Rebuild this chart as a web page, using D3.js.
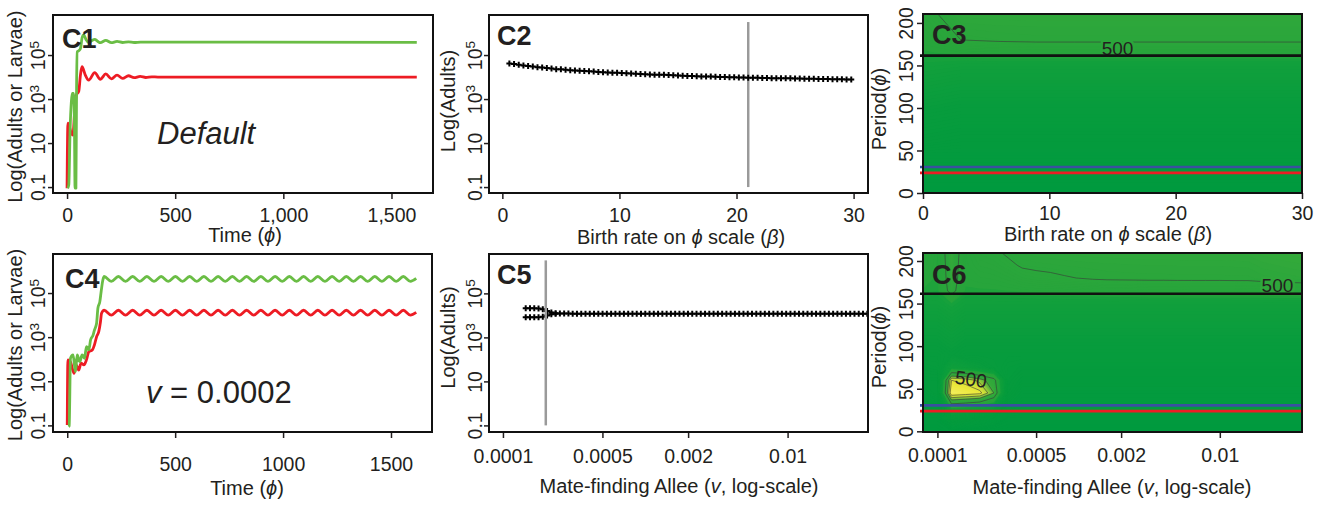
<!DOCTYPE html>
<html>
<head>
<meta charset="utf-8">
<script src="https://cdn.jsdelivr.net/npm/d3@7/dist/d3.min.js"></script>
<style>
  body { margin: 0; background: #fff; }
  svg text { font-family: "Liberation Sans", Arial, Helvetica, sans-serif; fill: #231f20; }
</style>
</head>
<body>
<svg id="fig" width="1323" height="507"></svg>
<script>
// ---------- values (abundances kept as log10) ----------

// C1 default run: [time, log10 N]
const c1Larvae = [[3,-1.05],[8,-0.9],[14,1.6],[20,2.9],[24,3.26],[30,3.26],[34,2.0],[37,-1.05],[41,-1.05],[44,3.5],[47,5.15],[55,5.2],[62,5.3],[70,5.8],[77,5.91],[88,5.7],[100,5.56],[115,5.66],[128,5.71],[141,5.63],[154,5.56],[179,5.67],[205,5.56],[231,5.62],[257,5.57],[284,5.6],[310,5.57],[340,5.59],[1617,5.58]];
const c1Adults = [[0,-1.05],[4,1.9],[12,1.7],[20,1.45],[27,1.36],[35,2.4],[43,3.18],[54,3.35],[62,4.1],[69,4.47],[84,4.1],[100,3.86],[128,4.2],[154,3.9],[179,4.14],[205,3.92],[231,4.09],[257,3.94],[284,4.06],[310,3.97],[338,4.03],[364,3.98],[392,4.01],[420,4.0],[1617,4.0]];

// C4 v = 0.0002: transient, then the steady cycle
const c4LarvaeRise = [[6,-1.06],[9,-1.02],[15,2.04],[27,2.19],[38,1.44],[46,2.19],[58,1.89],[69,2.19],[80,2.04],[89,2.57],[100,2.42],[108,2.87],[120,3.1],[126,3.32],[136,3.63],[142,4.31],[151,4.61],[157,5.06],[165,5.59]];
const c4AdultsRise = [[0,-0.98],[3,1.97],[14,1.89],[32,1.36],[42,1.74],[53,1.51],[64,1.82],[77,1.74],[89,1.97],[100,2.34],[116,2.42],[126,2.65],[136,3.02],[146,3.25],[154,3.7],[159,4.08]];
const c4CycleTime = [171,204,237,270,303,336,369,402,435,468,501,534,567,600,633,666,699,732,765,798,831,864,897,930,963,996,1029,1062,1095,1128,1161,1194,1227,1260,1293,1326,1359,1392,1425,1458,1491,1524,1557,1590,1617];
const c4LarvaeCycle = [5.75,5.53,5.75,5.53,5.75,5.53,5.75,5.53,5.75,5.53,5.75,5.53,5.75,5.53,5.75,5.53,5.75,5.53,5.75,5.53,5.75,5.53,5.75,5.53,5.75,5.53,5.75,5.53,5.75,5.53,5.75,5.53,5.75,5.53,5.75,5.53,5.75,5.53,5.75,5.53,5.75,5.53,5.75,5.53,5.66];
const c4AdultsCycle = [4.22,4.0,4.22,4.0,4.22,4.0,4.22,4.0,4.22,4.0,4.22,4.0,4.22,4.0,4.22,4.0,4.22,4.0,4.22,4.0,4.22,4.0,4.22,4.0,4.22,4.0,4.22,4.0,4.22,4.0,4.22,4.0,4.22,4.0,4.22,4.0,4.22,4.0,4.22,4.0,4.22,4.0,4.22,4.0,4.12];

// C2 equilibrium adults against birth rate
const c2Beta = [0.6,1.0,1.4,1.8,2.2,2.6,3.0,3.4,3.8,4.2,4.6,5.0,5.4,5.8,6.2,6.6,7.0,7.4,7.8,8.2,8.6,9.0,9.4,9.8,10.2,10.6,11.0,11.4,11.8,12.2,12.6,13.0,13.4,13.8,14.2,14.6,15.0,15.4,15.8,16.2,16.6,17.0,17.4,17.8,18.2,18.6,19.0,19.4,19.8,20.2,20.6,21.0,21.4,21.8,22.2,22.6,23.0,23.4,23.8,24.2,24.6,25.0,25.4,25.8,26.2,26.6,27.0,27.4,27.8,28.2,28.6,29.0,29.4,29.8];
const c2LogAdults = [4.62,4.59,4.56,4.53,4.50,4.48,4.45,4.43,4.41,4.39,4.36,4.35,4.33,4.31,4.30,4.29,4.27,4.26,4.25,4.23,4.22,4.21,4.20,4.19,4.18,4.17,4.16,4.15,4.14,4.13,4.12,4.11,4.11,4.10,4.09,4.08,4.07,4.06,4.05,4.05,4.04,4.03,4.03,4.02,4.01,4.00,4.00,3.99,3.99,3.98,3.98,3.97,3.97,3.97,3.96,3.96,3.95,3.95,3.94,3.94,3.94,3.93,3.93,3.92,3.92,3.92,3.91,3.91,3.91,3.90,3.90,3.90,3.89,3.89];
const c2Mark = 21;

// C5 equilibrium adults against the mate-finding Allee parameter (log10 v)
const c5BranchLogV = [-3.84,-3.81,-3.78,-3.75,-3.72,-3.69,-3.66,-3.63];
const c5BranchHigh = [4.33,4.33,4.32,4.31,4.28,4.20,4.13,4.10];
const c5BranchLow = [3.91,3.91,3.91,3.92,3.94,4.00,4.05,4.07];
const c5LogV = [-3.60,-3.57,-3.54,-3.51,-3.48,-3.45,-3.42,-3.39,-3.36,-3.33,-3.30,-3.27,-3.24,-3.21,-3.18,-3.15,-3.12,-3.09,-3.06,-3.03,-3.00,-2.97,-2.94,-2.91,-2.88,-2.85,-2.82,-2.79,-2.76,-2.73,-2.70,-2.67,-2.64,-2.61,-2.58,-2.55,-2.52,-2.49,-2.46,-2.43,-2.40,-2.37,-2.34,-2.31,-2.28,-2.25,-2.22,-2.19,-2.16,-2.13,-2.10,-2.07,-2.04,-2.01,-1.98,-1.95,-1.92,-1.89,-1.86,-1.83,-1.80,-1.77,-1.74,-1.71,-1.68,-1.65,-1.62,-1.59,-1.56,-1.53,-1.50,-1.47,-1.44];
const c5LogAdults = [4.09,4.09,4.09,4.08,4.08,4.08,4.08,4.08,4.08,4.08,
  4.08,4.08,4.08,4.08,4.08,4.08,4.08,4.08,4.08,4.08,
  4.08,4.08,4.08,4.08,4.08,4.08,4.08,4.08,4.08,4.08,
  4.08,4.08,4.08,4.08,4.08,4.08,4.08,4.08,4.08,4.08,
  4.08,4.08,4.08,4.08,4.08,4.08,4.08,4.08,4.08,4.08,
  4.08,4.08,4.08,4.08,4.08,4.08,4.08,4.08,4.08,4.08,
  4.08,4.08,4.08,4.08,4.08,4.08,4.08,4.08,4.08,4.08,
  4.08,4.08,4.08];
const c5Mark = 0.0002;

// C3 field: rows = period, columns = birth rate
const c3Beta = [0,3,6,9,12,15,18,21,24,27,30];
const c3Period = [0,15,30,45,60,75,90,105,120,135,150,165,180,195,210];
const c3Field = [
  [0,0,0,0,0,0,0,0,0,0,0],
  [37,37,37,37,37,37,37,37,37,37,37],
  [75,75,75,75,75,75,75,75,75,75,75],
  [112,112,112,112,112,112,112,112,112,112,112],
  [169,149,149,149,149,149,149,149,149,149,149],
  [206,186,186,186,186,186,186,186,186,186,186],
  [244,224,224,224,224,224,224,224,224,224,224],
  [281,261,261,261,261,261,261,261,261,261,261],
  [318,298,298,298,298,298,298,298,298,298,298],
  [355,335,335,335,335,335,335,335,335,335,335],
  [385,373,373,373,373,373,373,373,373,373,373],
  [406,418,425,425,425,425,425,425,425,425,425],
  [428,500,510,515,515,515,515,515,515,515,515],
  [449,522,527,529,529,529,529,529,529,529,529],
  [470,545,549,551,551,551,551,551,551,551,551]
];

// C6 field: rows = period, columns = log10 v
const c6LogV = [-4.1,-4.0,-3.9,-3.8,-3.7,-3.6,-3.5,-3.4,-3.3,-3.2,-3.1,-3.0,-2.9,-2.8,-2.7,-2.6,-2.5,-2.4,-2.3,-2.2,-2.1,-2.0,-1.9,-1.8,-1.7,-1.6,-1.5,-1.4];
const c6Period = [0,15,30,45,60,75,90,105,120,135,150,165,180,195,210];
const c6Field = [
  [0,0,30,0,0,0,0,0,0,0,0,0,0,0,0,0,0,0,0,0,0,0,0,0,0,0,0,0],
  [37,37,200,180,150,100,37,37,37,37,37,37,37,37,37,37,37,37,37,37,37,37,37,37,37,37,37,37],
  [75,80,450,430,400,330,120,75,75,75,75,75,75,75,75,75,75,75,75,75,75,75,75,75,75,75,75,75],
  [112,150,780,760,740,600,170,112,112,112,112,112,112,112,112,112,112,112,112,112,112,112,112,112,112,112,112,112],
  [149,150,720,700,640,540,190,149,149,149,149,149,149,149,149,149,149,149,149,149,149,149,149,149,149,149,149,149],
  [186,200,350,320,280,240,200,186,186,186,186,186,186,186,186,186,186,186,186,186,186,186,186,186,186,186,186,186],
  [224,224,254,224,224,224,224,224,224,224,224,224,224,224,224,224,224,224,224,224,224,224,224,224,224,224,224,224],
  [261,261,291,261,261,261,261,261,261,261,261,261,261,261,261,261,261,261,261,261,261,261,261,261,261,261,261,261],
  [298,298,328,298,298,298,298,298,298,298,298,298,298,298,298,298,298,298,298,298,298,298,298,298,298,298,298,298],
  [335,335,365,335,335,335,335,335,335,335,335,335,335,335,335,335,335,335,335,335,335,335,335,335,335,335,335,335],
  [373,373,400,373,373,373,373,373,373,373,373,373,373,373,373,373,373,373,373,373,373,373,373,373,373,373,373,373],
  [406,400,540,405,406,407,410,414,417,418,420,422,424,425,426,427,429,429,430,431,431,431,432,433,433,435,436,436],
  [428,405,560,420,428,433,446,468,479,486,495,501,508,512,513,514,515,515,516,516,516,516,517,517,525,530,535,540],
  [449,408,570,425,451,460,483,509,515,518,521,523,525,527,528,529,530,530,531,531,531,531,532,533,545,550,555,558],
  [460,410,580,430,473,486,512,531,537,540,543,546,548,549,550,551,552,553,553,554,554,554,555,555,565,570,575,580]
];

// reference periods drawn across C3 / C6
const refPeriods = [{p: 161.5, color: '#111'}, {p: 30.5, color: '#3a4fa0'}, {p: 23.7, color: '#ed1c24'}];

// ticks
const logTicks = [-1, 1, 3, 5];
const timeTicks = [0, 500, 1000, 1500];
const betaTicks = [0, 10, 20, 30];
const periodTicks = [0, 50, 100, 150, 200];
const alleeTicks = [0.0001, 0.0005, 0.002, 0.01];
const alleeLabels = ['0.0001', '0.0005', '0.002', '0.01'];

// ---------- layout ----------
const svg = d3.select('#fig');
const GREEN = '#6abd45', RED = '#ed1c24', GREY = '#9a9a9a';
const box = {
  c1: {l: 53, r: 433, t: 15, b: 193},
  c2: {l: 489, r: 868, t: 15, b: 193},
  c3: {l: 923, r: 1302, t: 14, b: 193},
  c4: {l: 53, r: 432, t: 254, b: 432},
  c5: {l: 489, r: 868, t: 254, b: 432},
  c6: {l: 923, r: 1302, t: 253, b: 432}
};

const x1 = d3.scaleLinear([-65, 1692], [box.c1.l, box.c1.r]);
const y1 = d3.scaleLinear([-1.27, 6.82], [box.c1.b, box.c1.t]);
const x4 = d3.scaleLinear([-66, 1690], [box.c4.l, box.c4.r]);
const y4 = d3.scaleLinear([-1.3, 6.77], [box.c4.b, box.c4.t]);
const x2 = d3.scaleLinear([-1.14, 31.23], [box.c2.l, box.c2.r]);
const y2 = d3.scaleLinear([-1.27, 6.82], [box.c2.b, box.c2.t]);
const x5 = d3.scaleLog([10 ** -4.098, 10 ** -1.435], [box.c5.l, box.c5.r]);
const y5 = d3.scaleLinear([-1.3, 6.79], [box.c5.b, box.c5.t]);
const x3 = d3.scaleLinear([0, 30], [box.c3.l, box.c3.r]);
const y3 = d3.scaleLinear([0, 210.5], [box.c3.b, box.c3.t]);
const x6 = d3.scaleLog([10 ** -4.102, 10 ** -1.418], [box.c6.l, box.c6.r]);
const y6 = d3.scaleLinear([-0.8, 209.4], [box.c6.b, box.c6.t]);

const fieldColor = d3.scaleLinear()
  .domain([0, 250, 390, 415, 520, 590, 630, 680, 740, 800])
  .range(['#009a3e', '#079c3d', '#12a03c', '#27a53b', '#2ba63b', '#36aa3a', '#7fc13a', '#c4da38', '#ece83a', '#f5f070'])
  .clamp(true);

function clipFor(id, b) {
  svg.append('clipPath').attr('id', id).append('rect')
    .attr('x', b.l).attr('y', b.t).attr('width', b.r - b.l).attr('height', b.b - b.t);
  return svg.append('g').attr('clip-path', `url(#${id})`);
}

function styleAxis(ax) {
  ax.attr('font-size', null).attr('font-family', null);
  ax.select('.domain').remove();
  ax.selectAll('line').attr('stroke', '#231f20').attr('stroke-width', 1.5);
  ax.selectAll('text').style('font-size', '19.5px');
}

function xAxis(scale, b, ticks, fmt, pad) {
  const ax = svg.append('g').attr('transform', `translate(0,${b.b})`)
    .call(d3.axisBottom(scale).tickValues(ticks).tickFormat(fmt).tickSize(6).tickPadding(pad));
  styleAxis(ax);
}

function logLabel(t, d) {
  t.text(null);
  if (d === -1) t.text('0.1');
  else if (d === 1) t.text('10');
  else {
    t.append('tspan').text('10');
    t.append('tspan').attr('dy', '-0.45em').style('font-size', '70%').text(d);
  }
}

function yAxis(scale, b, ticks, size, off, labeller) {
  const ax = svg.append('g').attr('transform', `translate(${b.l},0)`)
    .call(d3.axisLeft(scale).tickValues(ticks).tickSize(size));
  styleAxis(ax);
  ax.selectAll('.tick text')
    .attr('x', 0).attr('dy', 0).attr('text-anchor', 'middle')
    .attr('transform', `translate(${-off},0) rotate(-90)`)
    .each(function (d) { if (labeller) labeller(d3.select(this), d); });
}

function title(parts, x, y, rot) {
  const t = svg.append('text').attr('text-anchor', 'middle').style('font-size', '20px')
    .attr('transform', `translate(${x},${y})` + (rot ? ' rotate(-90)' : ''));
  parts.forEach(([s, it]) => t.append('tspan').style('font-style', it ? 'italic' : 'normal').text(s));
}

function frame(b, label, lx, ly) {
  svg.append('rect').attr('x', b.l).attr('y', b.t).attr('width', b.r - b.l).attr('height', b.b - b.t)
    .attr('fill', 'none').attr('stroke', '#111').attr('stroke-width', 2);
  svg.append('text').attr('x', lx).attr('y', ly).style('font-size', '27px').style('font-weight', 'bold').text(label);
}

const curve = d3.curveMonotoneX;

// ---------- C1 / C4 time series ----------
function series(g, data, xs, ys, color) {
  g.append('path').datum(data)
    .attr('d', d3.line().x(d => xs(d[0])).y(d => ys(d[1])).curve(curve))
    .attr('fill', 'none').attr('stroke', color).attr('stroke-width', 2.8).attr('stroke-linejoin', 'round');
}

const g1 = clipFor('clip1', box.c1);
series(g1, c1Adults, x1, y1, RED);
series(g1, c1Larvae, x1, y1, GREEN);
svg.append('text').attr('x', 157).attr('y', 144).style('font-size', '31px').style('font-style', 'italic').text('Default');

const g4 = clipFor('clip4', box.c4);
series(g4, c4AdultsRise.concat(c4CycleTime.map((t, i) => [t, c4AdultsCycle[i]])), x4, y4, RED);
series(g4, c4LarvaeRise.concat(c4CycleTime.map((t, i) => [t, c4LarvaeCycle[i]])), x4, y4, GREEN);
const vt = svg.append('text').attr('x', 146).attr('y', 403).style('font-size', '31px');
vt.append('tspan').style('font-style', 'italic').text('v');
vt.append('tspan').text(' = 0.0002');

// ---------- C2 / C5 sweeps ----------
const cross = d3.symbol(d3.symbolCross, 20);
function markers(g, pts) {
  g.selectAll(null).data(pts).join('path')
    .attr('transform', d => `translate(${d[0]},${d[1]})`).attr('d', cross).attr('fill', '#000');
}

const g2 = clipFor('clip2', box.c2);
g2.append('line').attr('x1', x2(c2Mark)).attr('x2', x2(c2Mark)).attr('y1', y2(-1.0)).attr('y2', y2(6.5))
  .attr('stroke', GREY).attr('stroke-width', 2.5);
markers(g2, c2Beta.map((b, i) => [x2(b), y2(c2LogAdults[i])]));

const g5 = clipFor('clip5', box.c5);
markers(g5, c5BranchLogV.map((v, i) => [x5(10 ** v), y5(c5BranchHigh[i])]));
markers(g5, c5BranchLogV.map((v, i) => [x5(10 ** v), y5(c5BranchLow[i])]));
markers(g5, c5LogV.map((v, i) => [x5(10 ** v), y5(c5LogAdults[i])]));
g5.append('line').attr('x1', x5(c5Mark)).attr('x2', x5(c5Mark)).attr('y1', y5(-1.0)).attr('y2', y5(6.5))
  .attr('stroke', GREY).attr('stroke-width', 2.5);

// ---------- C3 / C6 period maps ----------
function fieldPath(xs, ys, xPix, yPix) {
  // grid coordinate g sits on sample g - 0.5
  const dx = xs[1] - xs[0], dy = ys[1] - ys[0];
  return d3.geoPath(d3.geoTransform({
    point(gx, gy) { this.stream.point(xPix(xs[0] + (gx - 0.5) * dx), yPix(ys[0] + (gy - 0.5) * dy)); }
  }));
}

function field(g, rows, xs, ys, xPix, yPix, lineLevels) {
  const n = xs.length, m = ys.length, values = rows.flat();
  const path = fieldPath(xs, ys, xPix, yPix);
  g.selectAll(null).data(d3.contours().size([n, m]).thresholds(d3.range(0, 800, 10))(values)).join('path')
    .attr('d', path).attr('fill', d => fieldColor(d.value + 5));
  g.selectAll(null).data(d3.contours().size([n, m]).thresholds(lineLevels)(values)).join('path')
    .attr('d', path).attr('fill', 'none').attr('stroke', '#3a3a3a').attr('stroke-width', 0.7).attr('stroke-opacity', 0.85);
}

function contourLabel(g, x, y, rot, halo) {
  const t = g.append('text').attr('text-anchor', 'middle').style('font-size', '19px')
    .attr('transform', `translate(${x},${y}) rotate(${rot})`).text('500');
  if (halo) t.attr('stroke', halo).attr('stroke-width', 5).attr('paint-order', 'stroke');
}

function refLines(b, yPix) {
  refPeriods.forEach(r => {
    svg.append('line').attr('x1', b.l - 3).attr('x2', b.r).attr('y1', yPix(r.p)).attr('y2', yPix(r.p))
      .attr('stroke', r.color).attr('stroke-width', 2.6);
  });
}

const g3 = clipFor('clip3', box.c3);
field(g3, c3Field, c3Beta, c3Period, x3, y3, [500]);
contourLabel(g3, x3(15.4), y3(162.3), 0, '#2ba63b');
refLines(box.c3, y3);

const g6 = clipFor('clip6', box.c6);
const lv = v => x6(10 ** v);
field(g6, c6Field, c6LogV, c6Period, lv, y6, [500, 600, 660, 720]);
contourLabel(g6, lv(-1.592), y6(163.6), 0, '#2fa73b');
contourLabel(g6, lv(-3.769), y6(53.5), 8, null);
refLines(box.c6, y6);

// ---------- axes, titles, frames ----------
xAxis(x1, box.c1, timeTicks, d3.format(','), 9.4);
xAxis(x4, box.c4, timeTicks, d3.format('d'), 19.6);
xAxis(x2, box.c2, betaTicks, d3.format('d'), 8.8);
xAxis(x3, box.c3, betaTicks, d3.format('d'), 7.2);
xAxis(x5, box.c5, alleeTicks, (d, i) => alleeLabels[i], 11.2);
xAxis(x6, box.c6, alleeTicks, (d, i) => alleeLabels[i], 10.2);

yAxis(y1, box.c1, logTicks, 5, 8, logLabel);
yAxis(y4, box.c4, logTicks, 5, 8, logLabel);
yAxis(y2, box.c2, logTicks, 5, 7.5, logLabel);
yAxis(y5, box.c5, logTicks, 5, 7.5, logLabel);
yAxis(y3, box.c3, periodTicks, 6, 10.5, null);
yAxis(y6, box.c6, periodTicks, 6, 10.5, null);

const PHI = '\u03D5';
title([['Time ('], [PHI, 1], [')']], 245, 242);
title([['Time ('], [PHI, 1], [')']], 247, 495);
title([['Birth rate on '], [PHI, 1], [' scale ('], ['\u03B2', 1], [')']], 681, 243.5);
title([['Birth rate on '], [PHI, 1], [' scale ('], ['\u03B2', 1], [')']], 1108, 240.5);
title([['Mate-finding Allee ('], ['v', 1], [', log-scale)']], 679, 493);
title([['Mate-finding Allee ('], ['v', 1], [', log-scale)']], 1112, 494);
title([['Log(Adults or Larvae)']], 22, 106.7, true);
title([['Log(Adults or Larvae)']], 22, 345, true);
title([['Log(Adults)']], 455, 101, true);
title([['Log(Adults)']], 455, 337.5, true);
title([['Period('], [PHI, 1], [')']], 886, 109, true);
title([['Period('], [PHI, 1], [')']], 886, 347, true);

frame(box.c1, 'C1', 62, 48);
frame(box.c2, 'C2', 497, 45);
frame(box.c3, 'C3', 932, 44);
frame(box.c4, 'C4', 65, 288);
frame(box.c5, 'C5', 497, 284);
frame(box.c6, 'C6', 932, 284);
</script>
</body>
</html>
